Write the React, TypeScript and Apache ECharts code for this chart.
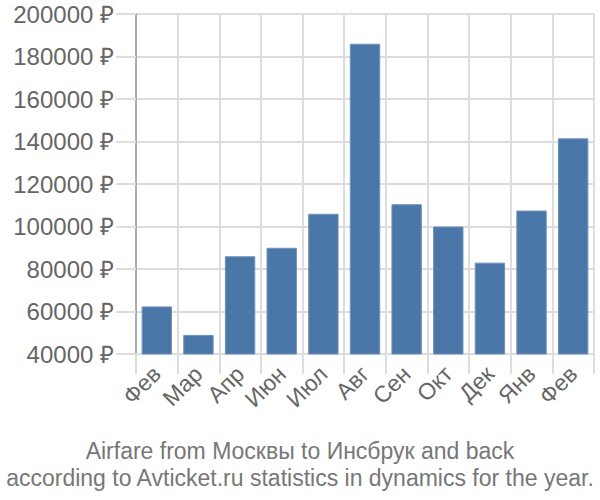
import React, { useEffect, useRef } from "react";
import * as echarts from "echarts";

const categories = ["Фев", "Мар", "Апр", "Июн", "Июл", "Авг", "Сен", "Окт", "Дек", "Янв", "Фев"];
const prices = [62400, 49000, 86000, 90000, 106000, 186000, 110500, 100000, 83000, 107500, 141500];
const titleLines = [
  "Airfare from Москвы to Инсбрук and back",
  "according to Avticket.ru statistics in dynamics for the year.",
];

export default function App() {
  const ref = useRef<HTMLDivElement>(null);
  useEffect(() => {
    if (!ref.current) return;
    const chart = echarts.init(ref.current, null, { renderer: "svg" });
    chart.setOption({
      animation: false,
      title: {
        text: titleLines.join("\n"),
        left: "center",
        top: 432,
        textStyle: {
          fontFamily: "Liberation Sans, Arial, sans-serif",
          fontSize: 23,
          fontWeight: "normal",
          color: "#777",
          lineHeight: 27,
        },
      },
      grid: { left: 136, right: 6, top: 14, bottom: 146 },
      xAxis: {
        type: "category",
        data: categories,
        axisLine: { show: true, lineStyle: { color: "#ddd", width: 2 } },
        axisTick: { show: true, length: 20, alignWithLabel: false, lineStyle: { color: "#ddd", width: 2 } },
        splitLine: { show: true, lineStyle: { color: "#ddd", width: 2 } },
        axisLabel: {
          interval: 0,
          hideOverlap: false,
          rotate: 45,
          margin: 16,
          fontSize: 23,
          color: "#666",
          fontFamily: "Liberation Sans, Arial, sans-serif",
        },
      },
      yAxis: {
        type: "value",
        min: 40000,
        max: 200000,
        interval: 20000,
        axisLine: { show: true, lineStyle: { color: "#aaa", width: 2 } },
        axisTick: { show: true, length: 20, lineStyle: { color: "#ddd", width: 2 } },
        splitLine: { show: true, lineStyle: { color: "#ddd", width: 2 } },
        axisLabel: {
          margin: 22,
          fontSize: 24,
          color: "#666",
          fontFamily: "Liberation Sans, Arial, sans-serif",
          formatter: (v: number) => v + " ₽",
        },
      },
      series: [
        {
          type: "bar",
          data: prices,
          barCategoryGap: "27%",
          itemStyle: { color: "#4a77a8", borderColor: "#6f92bb", borderWidth: 1 },
        },
      ],
    });
    return () => chart.dispose();
  }, []);
  return <div ref={ref} style={{ width: 600, height: 500, position: "absolute", left: 0, top: 0 }} />;
}
